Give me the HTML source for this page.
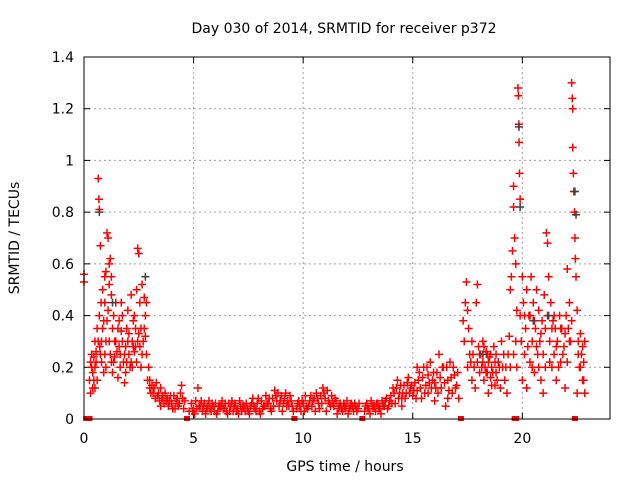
<!DOCTYPE html>
<html><head><meta charset="utf-8"><style>
body{margin:0;background:#fff;}
svg text{font-family:"DejaVu Sans","Liberation Sans",sans-serif;font-size:14px;fill:#000;}
</style></head><body>
<svg id="chart" width="640" height="480" xmlns="http://www.w3.org/2000/svg">
<rect width="640" height="480" fill="#fff"/>
<text x="344" y="33" text-anchor="middle">Day 030 of 2014, SRMTID for receiver p372</text>
<text x="345" y="471" text-anchor="middle">GPS time / hours</text>
<text transform="translate(19,238) rotate(-90)" text-anchor="middle">SRMTID / TECUs</text>
<g id="grid"></g>
<g id="ticks"></g>
<g id="red"></g>
<g id="gray"></g>
<g id="zeros"></g>
<rect x="84" y="57" width="526" height="362" fill="none" stroke="#000" stroke-width="1"/>
</svg>
<script>
const xTicks=[0,5,10,15,20];
const yTicks=[0,0.2,0.4,0.6,0.8,1,1.2,1.4];
const redPoints=[[0,0.56],[0,0.53],
[0.25,0.15],[0.3,0.22],[0.3,0.1],[0.35,0.25],[0.4,0.18],[0.4,0.12],[0.45,0.24],[0.5,0.3],[0.5,0.2],[0.55,0.26],[0.6,0.35],[0.6,0.15],[0.65,0.93],[0.68,0.85],[0.7,0.81],[0.7,0.4],[0.72,0.28],[0.75,0.67],[0.78,0.45],[0.8,0.22],[0.85,0.5],[0.9,0.38],[0.9,0.18],[0.95,0.55],[1.0,0.57],[1.0,0.3],[1.05,0.72],[1.1,0.7],[1.1,0.42],[1.15,0.6],[1.2,0.62],[1.2,0.25],[1.25,0.48],[1.3,0.35],[1.3,0.18],[1.35,0.22],[1.4,0.3],[1.45,0.45],[1.5,0.26],[1.55,0.16],[1.6,0.38],[1.65,0.2],[1.7,0.45],[1.75,0.3],[1.8,0.22],[1.85,0.14],[1.9,0.28],[1.95,0.35],[2.0,0.42],[2.05,0.25],[2.1,0.2],[2.15,0.48],[2.2,0.3],[2.25,0.38],[2.3,0.4],[2.35,0.28],[2.4,0.22],[2.45,0.66],[2.5,0.64],[2.5,0.33],[2.55,0.45],[2.6,0.2],[2.65,0.52],[2.7,0.3],[2.75,0.47],[2.8,0.4],[2.85,0.25],[2.9,0.15],[2.95,0.2],
[1.0,0.2],[1.4,0.24],[1.6,0.28],[1.9,0.18],[2.2,0.2],[2.6,0.35],[2.8,0.32],[0.5,0.12],[0.8,0.3],[1.7,0.34],[2.0,0.3],[2.3,0.26],
[3.0,0.15],[3.05,0.1],[3.1,0.13],[3.2,0.12],[3.25,0.08],[3.3,0.14],[3.4,0.1],[3.45,0.07],[3.5,0.12],[3.6,0.09],[3.65,0.06],[3.7,0.1],[3.8,0.08],[3.85,0.05],[3.9,0.07],[4.0,0.06],[4.1,0.09],[4.15,0.04],[4.2,0.07],[4.3,0.05],[4.4,0.1],[4.45,0.13],[4.5,0.08],[4.55,0.04],
[4.8,0.03],[4.9,0.06],[5.0,0.04],[5.1,0.07],[5.2,0.12],[5.3,0.05],[5.4,0.03],[5.5,0.06],[5.6,0.04],[5.7,0.07],[5.8,0.03],[5.9,0.05],[6.0,0.06],[6.1,0.03],[6.2,0.05],[6.3,0.07],[6.4,0.04],[6.5,0.03],[6.6,0.06],[6.7,0.05],[6.8,0.03],[6.9,0.06],[7.0,0.04],[7.1,0.07],[7.2,0.03],[7.3,0.05],[7.4,0.06],[7.5,0.03],[7.6,0.05],[7.7,0.08],[7.8,0.04],[7.9,0.06],[8.0,0.03],[8.1,0.07],[8.2,0.05],[8.3,0.09],[8.4,0.06],[8.5,0.04],[8.6,0.08],[8.7,0.11],[8.8,0.07],[8.9,0.05],[9.0,0.09],[9.1,0.06],[9.2,0.1],[9.3,0.07],[9.4,0.09],[9.5,0.05],[9.7,0.04],[9.8,0.07],[9.9,0.03],[10.0,0.06],[10.1,0.09],[10.2,0.04],[10.3,0.07],[10.4,0.05],[10.5,0.08],[10.6,0.1],[10.7,0.06],[10.8,0.09],[10.9,0.12],[11.0,0.08],[11.1,0.11],[11.2,0.06],[11.3,0.09],[11.4,0.05],[11.5,0.07],[11.6,0.04],[11.7,0.06],[11.8,0.03],[11.9,0.05],[12.0,0.07],[12.1,0.04],[12.2,0.06],[12.3,0.03],[12.4,0.05],[12.5,0.04],[12.8,0.03],[12.9,0.06],[13.0,0.04],[13.1,0.07],[13.2,0.05],[13.3,0.03],[13.4,0.06],[13.5,0.04],[13.6,0.07],[13.7,0.05],[13.8,0.08],[13.9,0.05],[14.0,0.09],
[5.05,0.02],[5.55,0.02],[6.05,0.02],[6.55,0.02],[7.05,0.02],[7.55,0.02],[8.05,0.02],[8.55,0.03],[9.05,0.03],[9.55,0.03],[10.05,0.03],[10.55,0.03],[11.05,0.03],[11.55,0.02],[12.05,0.02],[13.05,0.02],[13.55,0.02],[5.25,0.05],[6.25,0.05],[7.25,0.05],[8.25,0.05],[9.25,0.05],[10.25,0.05],[11.25,0.05],[12.25,0.05],[13.25,0.05],
[14.1,0.12],[14.2,0.06],[14.3,0.15],[14.4,0.1],[14.5,0.08],[14.6,0.13],[14.7,0.1],[14.8,0.16],[14.9,0.12],[15.0,0.09],[15.1,0.14],[15.2,0.11],[15.3,0.18],[15.4,0.08],[15.5,0.2],[15.6,0.13],[15.7,0.1],[15.8,0.22],[15.9,0.15],[16.0,0.07],[16.1,0.18],[16.2,0.25],[16.3,0.12],[16.4,0.2],[16.5,0.05],[16.6,0.15],[16.7,0.22],[16.8,0.1],[16.9,0.17],[17.0,0.13],[17.1,0.08],[14.5,0.05],[15.2,0.2],[16.0,0.14],[16.6,0.08],[15.7,0.17],
[17.3,0.38],[17.35,0.3],[17.4,0.45],[17.45,0.53],[17.5,0.42],[17.5,0.2],[17.55,0.35],[17.6,0.25],[17.7,0.15],[17.7,0.3],[17.8,0.2],[17.85,0.12],[17.9,0.45],[17.95,0.52],[18.0,0.28],[18.05,0.18],[18.1,0.25],[18.2,0.22],[18.25,0.15],[18.3,0.2],[18.35,0.26],[18.4,0.18],[18.45,0.1],[18.5,0.24],[18.55,0.16],[18.6,0.2],[18.7,0.28],[18.75,0.13],[18.8,0.18],[18.9,0.22],[19.0,0.12],[19.05,0.3],[19.1,0.2],[19.2,0.15],[19.3,0.1],[19.35,0.25],[19.4,0.32],[19.45,0.5],[19.5,0.55],
[19.55,0.65],[19.6,0.82],[19.6,0.9],[19.65,0.7],[19.7,0.6],[19.75,0.42],[19.75,0.2],[19.8,1.28],[19.82,1.25],[19.84,1.14],[19.85,1.07],[19.87,0.95],[19.9,0.85],[19.9,0.4],[19.95,0.3],[20.0,0.55],[20.0,0.15],[20.05,0.45],[20.1,0.25],[20.15,0.35],[20.2,0.5],[20.2,0.12],
[20.3,0.4],[20.35,0.22],[20.4,0.55],[20.45,0.3],[20.5,0.45],[20.55,0.18],[20.6,0.35],[20.65,0.5],[20.7,0.25],[20.75,0.42],[20.8,0.3],[20.85,0.15],[20.9,0.38],[20.95,0.1],[21.0,0.48],[21.05,0.35],[21.1,0.72],[21.15,0.68],[21.2,0.55],[21.25,0.3],[21.3,0.45],[21.35,0.2],[21.4,0.38],[21.45,0.25],[21.5,0.35],[21.55,0.15],[21.6,0.3],[21.7,0.4],[21.75,0.22],[21.8,0.35],[21.9,0.28],[21.95,0.12],
[22.0,0.4],[22.05,0.58],[22.1,0.35],[22.15,0.45],[22.2,0.3],[22.25,1.3],[22.28,1.24],[22.3,1.2],[22.3,1.05],[22.33,0.95],[22.35,0.88],[22.38,0.8],[22.4,0.7],[22.42,0.62],[22.45,0.55],[22.5,0.42],[22.55,0.3],[22.6,0.2],[22.65,0.33],[22.7,0.25],[22.75,0.15],[22.8,0.22],[22.85,0.1],[22.85,0.3],[22.5,0.1]];
const redPointsExtra=[
[0.35,0.2],[0.45,0.15],[0.55,0.22],[0.65,0.3],[0.75,0.25],[0.85,0.35],[0.95,0.25],[1.05,0.38],[1.15,0.3],[1.25,0.22],[1.35,0.4],[1.45,0.3],[1.55,0.35],[1.65,0.25],[1.75,0.4],[1.85,0.25],[1.95,0.22],[2.05,0.33],[2.15,0.22],[2.25,0.28],[2.35,0.35],[2.45,0.3],[2.55,0.28],[2.65,0.25],[2.75,0.35],[2.85,0.45],[1.15,0.52],[1.25,0.55],[0.95,0.45],[2.4,0.5],
[3.15,0.1],[3.35,0.09],[3.55,0.08],[3.75,0.07],[3.95,0.09],[4.25,0.08],[4.35,0.06],[4.6,0.07],[3.0,0.12],[3.5,0.05],[4.05,0.04],
[4.95,0.03],[5.15,0.04],[5.35,0.07],[5.45,0.05],[5.65,0.05],[5.75,0.04],[5.85,0.06],[5.95,0.03],[6.15,0.05],[6.35,0.04],[6.45,0.06],[6.65,0.03],[6.75,0.07],[6.85,0.05],[6.95,0.03],[7.15,0.05],[7.35,0.03],[7.45,0.04],[7.65,0.06],[7.75,0.05],[7.85,0.03],[7.95,0.08],[8.15,0.04],[8.35,0.06],[8.45,0.08],[8.65,0.05],[8.75,0.09],[8.85,0.1],[8.95,0.07],[9.15,0.08],[9.35,0.05],[9.45,0.07],[9.75,0.06],[9.85,0.05],[9.95,0.07],[10.15,0.05],[10.35,0.09],[10.45,0.07],[10.65,0.08],[10.75,0.04],[10.85,0.06],[10.95,0.1],[11.15,0.07],[11.35,0.06],[11.45,0.08],[11.65,0.05],[11.75,0.04],[11.85,0.06],[11.95,0.04],[12.15,0.05],[12.35,0.06],[12.45,0.03],[12.55,0.06],[12.85,0.05],[12.95,0.04],[13.15,0.05],[13.35,0.06],[13.45,0.04],[13.65,0.05],[13.75,0.07],[13.85,0.04],[13.95,0.07],
[14.05,0.06],[14.15,0.1],[14.25,0.12],[14.35,0.08],[14.45,0.13],[14.55,0.1],[14.65,0.08],[14.75,0.14],[14.85,0.1],[14.95,0.13],[15.05,0.11],[15.15,0.08],[15.25,0.15],[15.35,0.12],[15.45,0.16],[15.55,0.1],[15.65,0.2],[15.75,0.14],[15.85,0.12],[15.95,0.18],[16.05,0.12],[16.15,0.1],[16.25,0.16],[16.35,0.2],[16.45,0.14],[16.55,0.2],[16.65,0.11],[16.75,0.16],[16.85,0.2],[16.95,0.12],[17.05,0.18],
[17.65,0.22],[17.75,0.25],[17.95,0.22],[18.05,0.25],[18.15,0.2],[18.25,0.28],[18.35,0.18],[18.45,0.22],[18.55,0.25],[18.65,0.18],[18.75,0.22],[18.85,0.15],[18.95,0.2],[19.15,0.25],[19.25,0.2],[19.45,0.2],[18.2,0.3],[18.4,0.25],[18.6,0.13],[18.8,0.25],
[20.25,0.28],[20.35,0.4],[20.45,0.2],[20.55,0.38],[20.65,0.28],[20.75,0.2],[20.85,0.33],[20.95,0.25],[21.05,0.2],[21.15,0.4],[21.25,0.22],[21.35,0.35],[21.45,0.4],[21.55,0.28],[21.65,0.2],[21.75,0.35],[21.85,0.25],[21.95,0.33],[22.05,0.22],[22.15,0.3],[22.25,0.38],[22.55,0.25],[22.65,0.2],[22.75,0.28],[22.8,0.15],[20.1,0.4],[19.7,0.3],[19.6,0.25]];
const grayPoints=[[19.85,1.13],[19.9,0.82],[22.4,0.88],[22.45,0.79],[2.8,0.55],[0.7,0.8],[20.5,0.38],[1.3,0.45],[18.2,0.25],[21.2,0.4]];
const gapTimes=[0.1,0.2,0.25,4.7,9.6,12.7,17.2,19.65,19.72,22.4];
const X0=84,X1=610,Y0=419,Y1=57,XMAX=24,YMAX=1.4;
const sx=t=>X0+t/XMAX*(X1-X0);
const sy=v=>Y0-v/YMAX*(Y0-Y1);
const NS='http://www.w3.org/2000/svg';
function mk(tag,attrs,parent){const e=document.createElementNS(NS,tag);for(const k in attrs)e.setAttribute(k,attrs[k]);parent.appendChild(e);return e;}
const grid=document.getElementById('grid'),ticks=document.getElementById('ticks');
yTicks.forEach(v=>{const y=sy(v);
 if(v>0&&v<YMAX){const g=mk('line',{x1:X0,x2:X1,y1:y,y2:y,stroke:'#a0a0a0','stroke-dasharray':'2,3'},grid);
 
 }
 mk('line',{x1:X0,x2:X0+6,y1:y,y2:y,stroke:'#000'},ticks);
 mk('line',{x1:X1-6,x2:X1,y1:y,y2:y,stroke:'#000'},ticks);
 const t=mk('text',{x:X0-10,y:y+5,'text-anchor':'end'},ticks);t.textContent=String(v);
 
 });
xTicks.forEach(v=>{const x=sx(v);
 if(v>0){const g=mk('line',{x1:x,x2:x,y1:Y1,y2:Y0,stroke:'#a0a0a0','stroke-dasharray':'2,3'},grid);
 
 }
 mk('line',{x1:x,x2:x,y1:Y0,y2:Y0-6,stroke:'#000'},ticks);
 mk('line',{x1:x,x2:x,y1:Y1,y2:Y1+6,stroke:'#000'},ticks);
 const t=mk('text',{x:x,y:Y0+24,'text-anchor':'middle'},ticks);t.textContent=String(v);
 
 });
function plus(g,t,v,c){const x=sx(t),y=sy(v);
 const p=mk('path',{d:`M${x-4},${y}H${x+4}M${x},${y-4}V${y+4}`,stroke:c,'stroke-width':1.5,fill:'none'},g);
 
 }
const red=document.getElementById('red'),gray=document.getElementById('gray'),zeros=document.getElementById('zeros');
redPoints.forEach(p=>plus(red,p[0],p[1],'#ff0000'));
redPointsExtra.forEach(p=>plus(red,p[0],p[1],'#ff0000'));
grayPoints.forEach(p=>plus(gray,p[0],p[1],'#404040'));
gapTimes.forEach(t=>{const r=mk('rect',{x:sx(t)-3,y:Y0-3,width:6,height:5,fill:'#ff0000'},zeros);
 
 });
</script>
</body></html>
